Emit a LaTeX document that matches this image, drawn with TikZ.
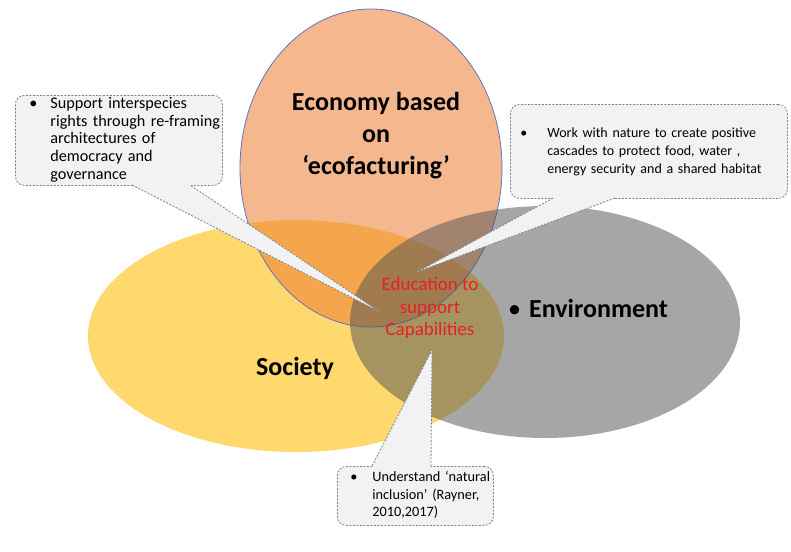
\documentclass[tikz,border=0pt]{standalone}
\usepackage{fontspec}
\setmainfont{Carlito}
\usetikzlibrary{calc,shapes.geometric}

\definecolor{econfill}{RGB}{237,125,49}
\definecolor{econline}{RGB}{100,115,190}
\definecolor{socfill}{RGB}{255,217,110}
\definecolor{envfill}{RGB}{85,85,85}
\definecolor{calloutfill}{RGB}{242,242,243}
\definecolor{calloutline}{RGB}{120,130,150}
\definecolor{edured}{RGB}{232,32,36}

\tikzset{
  blob/.style={ellipse, inner sep=0pt},
  bigword/.style={font=\fontsize{26}{32}\selectfont\bfseries, align=center, inner sep=0pt},
  callout/.style={rectangle, rounded corners=9pt, fill=calloutfill, draw=calloutline,
    line width=0.8pt, dash pattern=on 2pt off 1.5pt, anchor=north west, inner ysep=0pt,
    align=left},
  pointerfill/.style={fill=calloutfill},
  pointeredge/.style={draw=calloutline, line width=0.8pt, dash pattern=on 2pt off 1.5pt},
}

\begin{document}
\begin{tikzpicture}[x=1pt,y=-1pt]
  \useasboundingbox (0,0) rectangle (791,551);
  \fill[white] (0,0) rectangle (791,551);

  % the three overlapping circles of the model
  \node[blob, fill=socfill, minimum width=416pt, minimum height=232pt] (society) at (296,336) {};
  \node[blob, fill=econfill, fill opacity=0.55, draw=econline, line width=0.8pt,
        minimum width=262pt, minimum height=318pt] (economy) at (371,168) {};
  \node[blob, fill=envfill, fill opacity=0.52, minimum width=390pt, minimum height=232pt]
        (environment) at (545,322) {};

  % circle titles
  \node[bigword] (econtitle) at (376,136) {Economy based\\on\\‘ecofacturing’};
  \node[bigword] (soctitle) at (295,368) {Society};
  \node[bigword, anchor=west] (envtitle) at (508,308) {{\mdseries•}\hspace{8pt}Environment};
  \node[font=\fontsize{19}{22.5}\selectfont, text=edured, align=center, inner sep=0pt]
        (education) at (430,308) {Education to\\support\\Capabilities};

  % callout boxes
  \node[callout, font=\fontsize{16.2}{17.7}\selectfont, inner xsep=14pt, text width=179pt,
        minimum width=207pt, minimum height=90pt] (rights) at (15,95)
        {\begin{tabular}{@{}p{21pt}@{}l@{}}•&Support interspecies\\&rights through re-framing\\&architectures of\\&democracy and\\&governance\end{tabular}};
  \node[callout, font=\fontsize{14}{18}\selectfont, inner xsep=10pt, text width=257pt,
        minimum width=277pt, minimum height=94pt] (nature) at (510,104)
        {\begin{tabular}{@{}p{27pt}@{}l@{}}•&Work with nature to create positive\\&cascades to protect food, water ,\\&energy security and a shared habitat\end{tabular}};
  \node[callout, font=\fontsize{14.3}{17.5}\selectfont, inner xsep=13pt, text width=130pt,
        minimum width=156pt, minimum height=59pt] (inclusion) at (337,466)
        {\begin{tabular}{@{}p{22pt}@{}l@{}}•&Understand ‘natural\\&inclusion’ (Rayner,\\&2010,2017)\end{tabular}};

  % pointer tips and where the pointers leave their boxes
  \coordinate (rightsTip) at (380,312);
  \coordinate (rightsA) at (132,185);
  \coordinate (rightsB) at (190,185);
  \coordinate (natureTip) at (417,272);
  \coordinate (natureA) at (553,198);
  \coordinate (natureB) at (615,198);
  \coordinate (inclusionTip) at (432,350);
  \coordinate (inclusionA) at (372,466);
  \coordinate (inclusionB) at (431,466);

  % pointers: fill reaches just inside the box to hide its border there
  \foreach \c in {rights,nature,inclusion}{
    \fill[pointerfill] ($(\c Tip)!1.04!(\c A)$) -- (\c Tip) -- ($(\c Tip)!1.04!(\c B)$) -- cycle;
    \draw[pointeredge] (\c A) -- (\c Tip) -- (\c B);
  }
\end{tikzpicture}
\end{document}
